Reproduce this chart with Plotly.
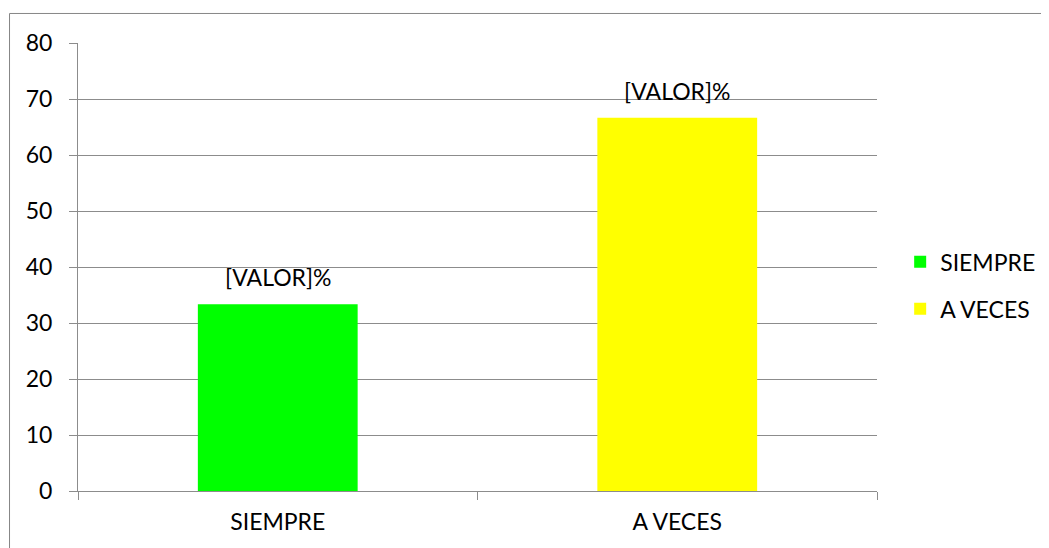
import plotly.graph_objects as go

categories = ["SIEMPRE", "A VECES"]
values = [33.33, 66.67]
colors = ["#00FF00", "#FFFF00"]
label_text = ["[VALOR]%", "[VALOR]%"]
y_ticks = [0, 10, 20, 30, 40, 50, 60, 70, 80]

FONT = "Lato, Carlito, Calibri, sans-serif"
FS = 23
GRID = "#8c8c8c"

fig = go.Figure()
for cat, val, col in zip(categories, values, colors):
    fig.add_trace(go.Bar(
        x=[cat], y=[val], name=cat, marker=dict(color=col, line=dict(width=0)),
        width=0.4, legendgroup=cat, showlegend=True,
    ))

for cat, val, txt in zip(categories, values, label_text):
    fig.add_annotation(x=cat, y=val, text=txt, showarrow=False,
                       yanchor="bottom", yshift=11,
                       font=dict(family=FONT, size=FS, color="#000000"))

# outer chart border
fig.add_shape(type="rect", xref="paper", yref="paper",
              x0=-0.0857, x1=1.2165, y0=-0.13, y1=1.0659,
              line=dict(color="#868686", width=1), layer="below")

fig.update_layout(
    width=1049, height=548,
    margin=dict(l=70, r=180, t=35, b=65),
    paper_bgcolor="white", plot_bgcolor="white",
    barmode="overlay",
    font=dict(family=FONT, size=FS, color="#000000"),
    legend=dict(x=1.029, y=0.459, xanchor="left", yanchor="middle",
                font=dict(family=FONT, size=FS, color="#000000"),
                tracegroupgap=14, itemwidth=30, bgcolor="rgba(0,0,0,0)"),
    xaxis=dict(showgrid=False, showline=True, linecolor=GRID, linewidth=1,
               ticks="outside", tickson="boundaries", ticklen=8, tickcolor=GRID,
               ticklabelstandoff=10,
               tickfont=dict(family=FONT, size=FS, color="#000000"),
               categoryorder="array", categoryarray=categories),
    yaxis=dict(range=[0, 80], tickvals=y_ticks, showgrid=True, gridcolor=GRID,
               gridwidth=1, showline=True, linecolor=GRID, linewidth=1,
               ticks="outside", ticklen=8, tickcolor=GRID, zeroline=False,
               ticklabelstandoff=12,
               tickfont=dict(family=FONT, size=FS, color="#000000")),
)

fig.write_html("out.html")
